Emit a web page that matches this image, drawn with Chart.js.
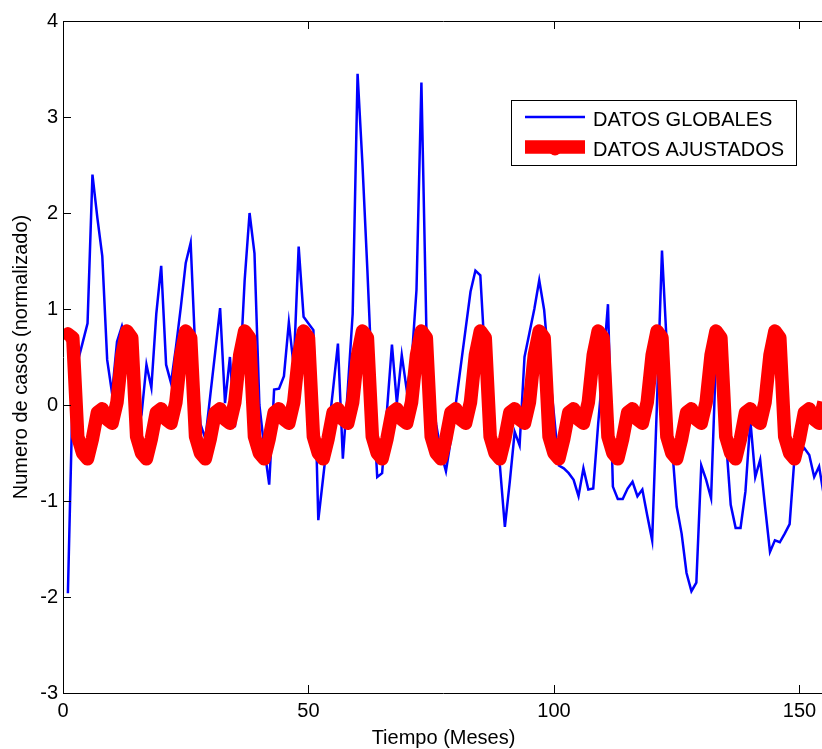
<!DOCTYPE html>
<html>
<head>
<meta charset="utf-8">
<script src="https://cdn.jsdelivr.net/npm/chart.js@4/dist/chart.umd.min.js"></script>
<style>
html,body{margin:0;padding:0;background:#fff;overflow:hidden;}
#wrap{position:relative;width:824px;height:749px;}
canvas{display:block;}
</style>
</head>
<body>
<div id="wrap"><canvas id="c" width="824" height="749"></canvas></div>
<script>
// ---------------- data ----------------
const seriesLabels = ['DATOS GLOBALES', 'DATOS AJUSTADOS'];
const xAxisTitle = 'Tiempo (Meses)';
const yAxisTitle = 'Numero de casos (normalizado)';
const xTickValues = [0, 50, 100, 150];
const yTickValues = [-3, -2, -1, 0, 1, 2, 3, 4];

const globalMonths = [
  1,2,3,4,5,6,7,8,9,10,11,12,13,14,15,16,17,18,19,20,
  21,22,23,24,25,26,27,28,29,30,31,32,33,34,35,36,37,38,39,40,
  41,42,43,44,45,46,47,48,49,50,51,52,53,54,55,56,57,58,59,60,
  61,62,63,64,65,66,67,68,69,70,71,72,73,74,75,76,77,78,79,80,
  81,82,83,84,85,86,87,88,89,90,91,92,93,94,95,96,97,98,99,100,
  101,102,103,104,105,106,107,108,109,110,111,112,113,114,115,116,117,118,119,120,
  121,122,123,124,125,126,127,128,129,130,131,132,133,134,135,136,137,138,139,140,
  141,142,143,144,145,146,147,148,149,150,151,152,153,154,155
];
const globalValues = [
  -1.96, 0.20, 0.45, 0.65, 0.85, 2.40, 1.95, 1.55, 0.47, 0.12,
   0.66, 0.82, 0.60, 0.10,-0.25,-0.10, 0.42, 0.18, 0.95, 1.45,
   0.42, 0.23, 0.60, 1.02, 1.48, 1.69, 0.50,-0.20,-0.35, 0.10,
   0.55, 1.01, 0.02, 0.50,-0.23, 0.30, 1.30, 2.00, 1.58, 0.00,
  -0.45,-0.83, 0.16, 0.17, 0.30, 0.86, 0.40, 1.65, 0.92, 0.85,
   0.78,-1.20,-0.75,-0.30, 0.16, 0.64,-0.56, 0.16, 0.95, 3.45,
   2.50, 1.40, 0.20,-0.75,-0.71,-0.05, 0.63, 0.02, 0.52, 0.16,
   0.45, 1.20, 3.36, 0.82, 0.20,-0.20,-0.50,-0.69,-0.36, 0.01,
   0.40, 0.79, 1.18, 1.40, 1.35, 0.45,-0.47,-0.45,-0.64,-1.27,
  -0.80,-0.28,-0.42, 0.50, 0.75, 1.00, 1.30, 0.99, 0.40,-0.10,
  -0.63,-0.66,-0.71,-0.78,-0.95,-0.66,-0.88,-0.87,-0.20, 0.40,
   1.05,-0.85,-0.98,-0.98,-0.87,-0.80,-0.95,-0.88,-1.15,-1.41,
   0.05, 1.61, 0.60,-0.40,-1.06,-1.34,-1.75,-1.94,-1.85,-0.63,
  -0.78,-0.97, 0.50, 0.18,-0.34,-1.04,-1.28,-1.28,-0.90,-0.16,
  -0.75,-0.57,-1.06,-1.53,-1.41,-1.43,-1.34,-1.24,-0.54,-0.50,
  -0.45,-0.52,-0.75,-0.64,-0.95
];

const fitMonths = [
  0,1,2,3,4,5,6,7,8,9,10,11,12,13,14,15,16,17,18,19,20,
  21,22,23,24,25,26,27,28,29,30,31,32,33,34,35,36,37,38,39,40,
  41,42,43,44,45,46,47,48,49,50,51,52,53,54,55,56,57,58,59,60,
  61,62,63,64,65,66,67,68,69,70,71,72,73,74,75,76,77,78,79,80,
  81,82,83,84,85,86,87,88,89,90,91,92,93,94,95,96,97,98,99,100,
  101,102,103,104,105,106,107,108,109,110,111,112,113,114,115,116,117,118,119,120,
  121,122,123,124,125,126,127,128,129,130,131,132,133,134,135,136,137,138,139,140,
  141,142,143,144,145,146,147,148,149,150,151,152,153,154,155
];
const fitValues = [
   0.70, 0.74, 0.70,-0.33,-0.50,-0.56,-0.35,-0.08,-0.04,-0.15,-0.19, 0.03, 0.52,
   0.77, 0.70,-0.33,-0.50,-0.56,-0.35,-0.08,-0.04,-0.15,-0.19, 0.03, 0.52,
   0.77, 0.70,-0.33,-0.50,-0.56,-0.35,-0.08,-0.04,-0.15,-0.19, 0.03, 0.52,
   0.77, 0.70,-0.33,-0.50,-0.56,-0.35,-0.08,-0.04,-0.15,-0.19, 0.03, 0.52,
   0.77, 0.70,-0.33,-0.50,-0.56,-0.35,-0.08,-0.04,-0.15,-0.19, 0.03, 0.52,
   0.77, 0.70,-0.33,-0.50,-0.56,-0.35,-0.08,-0.04,-0.15,-0.19, 0.03, 0.52,
   0.77, 0.70,-0.33,-0.50,-0.56,-0.35,-0.08,-0.04,-0.15,-0.19, 0.03, 0.52,
   0.77, 0.70,-0.33,-0.50,-0.56,-0.35,-0.08,-0.04,-0.15,-0.19, 0.03, 0.52,
   0.77, 0.70,-0.33,-0.50,-0.56,-0.35,-0.08,-0.04,-0.15,-0.19, 0.03, 0.52,
   0.77, 0.70,-0.33,-0.50,-0.56,-0.35,-0.08,-0.04,-0.15,-0.19, 0.03, 0.52,
   0.77, 0.70,-0.33,-0.50,-0.56,-0.35,-0.08,-0.04,-0.15,-0.19, 0.03, 0.52,
   0.77, 0.70,-0.33,-0.50,-0.56,-0.35,-0.08,-0.04,-0.15,-0.19, 0.03, 0.52,
   0.77, 0.70,-0.33,-0.50,-0.56,-0.35,-0.08,-0.04,-0.15,-0.19, 0.03
];

// ---------------- chart ----------------
const FONT = '"Liberation Sans", Arial, Helvetica, sans-serif';
const toPoints = (xs, ys) => xs.map((x, i) => ({x: x, y: ys[i]}));

const framePlugin = {
  id: 'frame',
  afterDraw(chart) {
    const {ctx, chartArea: a, scales: {x, y}} = chart;
    ctx.save();
    ctx.strokeStyle = '#000';
    ctx.lineWidth = 1;
    ctx.beginPath();
    ctx.moveTo(a.left + 0.5, a.top); ctx.lineTo(a.left + 0.5, a.bottom + 1);
    ctx.moveTo(a.left, a.bottom + 0.5); ctx.lineTo(a.right, a.bottom + 0.5);
    ctx.moveTo(a.left, a.top + 0.5); ctx.lineTo(a.right, a.top + 0.5);
    ctx.stroke();
    const L = 8;
    ctx.beginPath();
    x.ticks.forEach(t => {
      const px = Math.round(x.getPixelForValue(t.value)) + 0.5;
      ctx.moveTo(px, a.bottom); ctx.lineTo(px, a.bottom - L);
      ctx.moveTo(px, a.top); ctx.lineTo(px, a.top + L);
    });
    y.ticks.forEach(t => {
      const py = Math.round(y.getPixelForValue(t.value)) + 0.5;
      ctx.moveTo(a.left, py); ctx.lineTo(a.left + L, py);
    });
    ctx.stroke();

    // legend box
    const bx = 511.5, by = 100.5, bw = 285, bh = 65;
    ctx.fillStyle = '#fff';
    ctx.fillRect(bx, by, bw, bh);
    ctx.strokeStyle = '#000';
    ctx.lineWidth = 1;
    ctx.strokeRect(bx, by, bw, bh);
    const rows = [117, 147];
    chart.data.datasets.forEach((ds, i) => {
      const yy = rows[i];
      ctx.strokeStyle = ds.borderColor;
      ctx.lineWidth = ds.borderWidth;
      ctx.lineCap = 'butt';
      ctx.beginPath();
      ctx.moveTo(525, yy); ctx.lineTo(585, yy);
      ctx.stroke();
      if (i === 1) {
        ctx.fillStyle = ds.borderColor;
        ctx.beginPath();
        ctx.arc(555, yy + 2, 6.5, 0, Math.PI * 2);
        ctx.fill();
      }
      ctx.fillStyle = '#000';
      ctx.font = '20px ' + FONT;
      ctx.textBaseline = 'middle';
      ctx.textAlign = 'left';
      ctx.fillText(ds.label, 593, yy + 3);
    });
    ctx.restore();
  }
};

new Chart(document.getElementById('c'), {
  type: 'line',
  data: {
    datasets: [
      {
        label: seriesLabels[0],
        data: toPoints(globalMonths, globalValues),
        borderColor: '#0000ff',
        borderWidth: 2.5,
        pointRadius: 0,
        tension: 0,
        fill: false,
        clip: 0,
        order: 2
      },
      {
        label: seriesLabels[1],
        data: toPoints(fitMonths, fitValues),
        borderColor: '#ff0000',
        borderWidth: 13.5,
        borderJoinStyle: 'round',
        borderCapStyle: 'butt',
        pointRadius: 0,
        tension: 0,
        fill: false,
        clip: 0,
        order: 1
      }
    ]
  },
  options: {
    responsive: false,
    animation: false,
    devicePixelRatio: 1,
    layout: {padding: {top: 21, left: 0, right: 0, bottom: 0}},
    plugins: {legend: {display: false}, tooltip: {enabled: false}},
    scales: {
      x: {
        type: 'linear', min: 0, max: 155,
        afterBuildTicks: s => { s.ticks = xTickValues.map(v => ({value: v})); },
        afterFit: s => { s.height = 56; },
        grid: {display: false, drawTicks: false},
        border: {display: false},
        ticks: {padding: 6, color: '#000', font: {family: FONT, size: 20}, maxRotation: 0, autoSkip: false, callback: v => String(v)},
        title: {display: true, text: xAxisTitle, color: '#000', font: {family: FONT, size: 20, lineHeight: 1.1}, padding: {top: 0, bottom: 0}}
      },
      y: {
        type: 'linear', min: -3, max: 4,
        afterBuildTicks: s => { s.ticks = yTickValues.map(v => ({value: v})); },
        afterFit: s => { s.width = 63; },
        grid: {display: false, drawTicks: false},
        border: {display: false},
        ticks: {padding: 5, color: '#000', font: {family: FONT, size: 20}, autoSkip: false, callback: v => String(v)},
        title: {display: true, text: yAxisTitle, color: '#000', font: {family: FONT, size: 20, lineHeight: 1.2}, padding: {top: 9, bottom: 0}}
      }
    }
  },
  plugins: [framePlugin]
});
</script>
</body>
</html>
